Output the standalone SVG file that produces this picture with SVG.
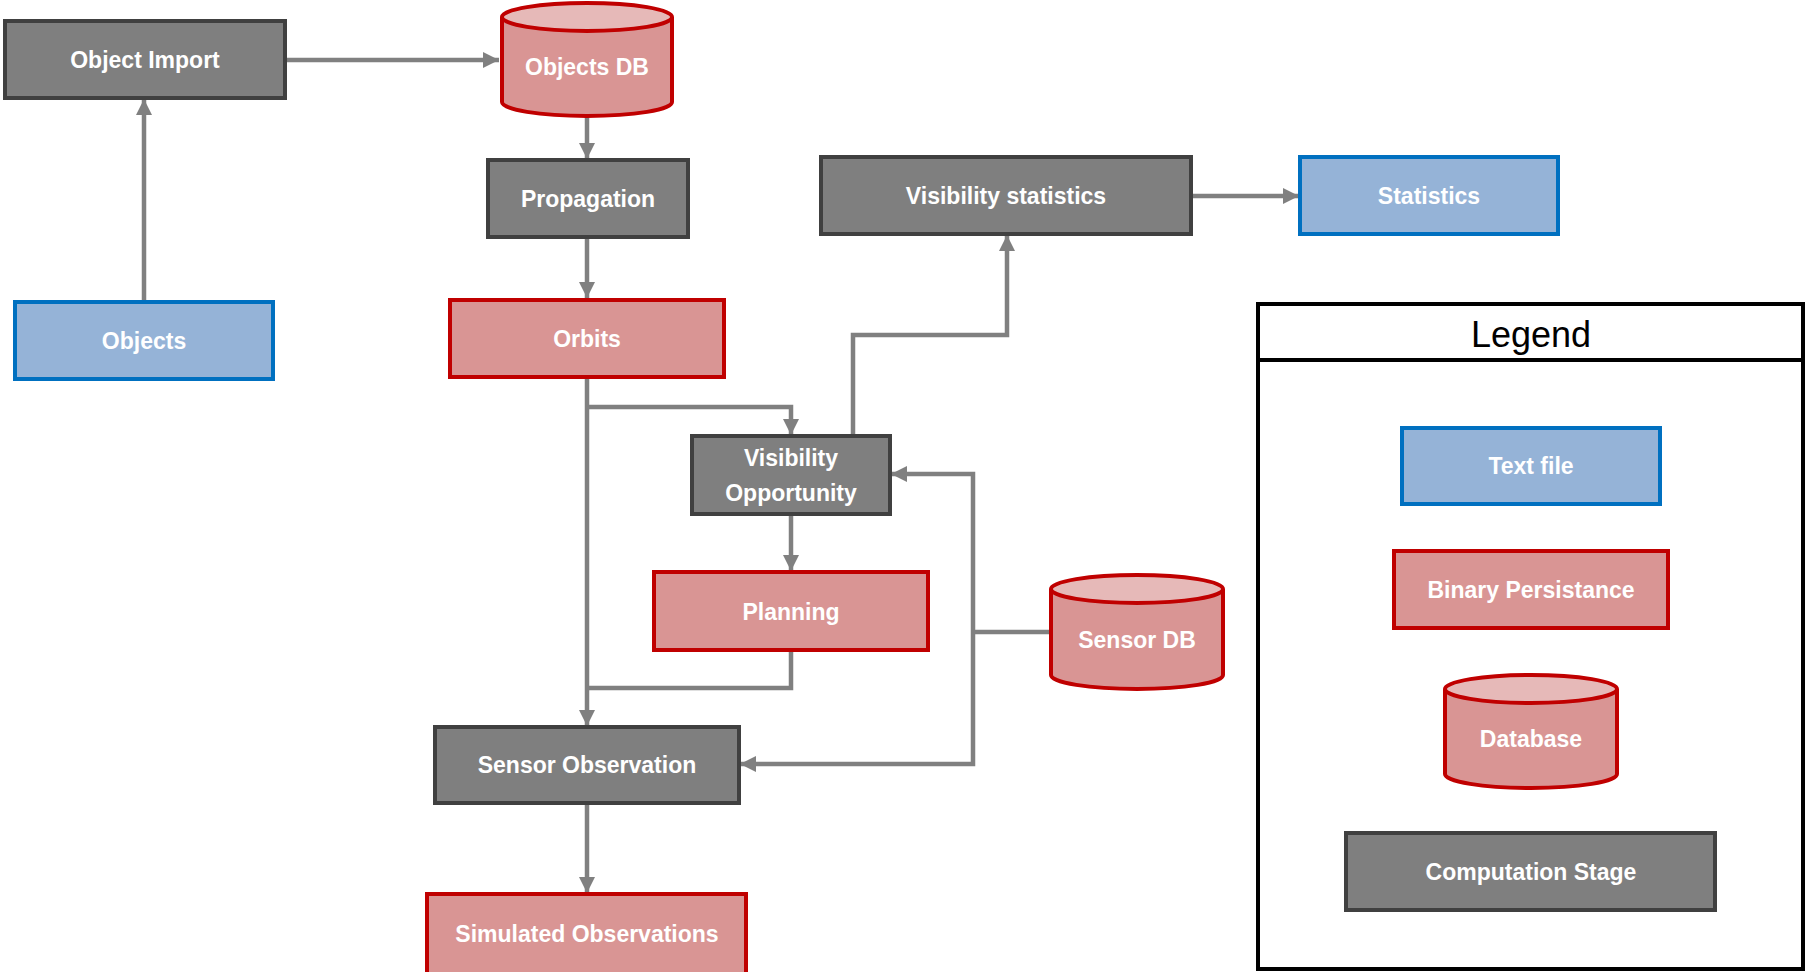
<svg xmlns="http://www.w3.org/2000/svg" width="1806" height="972" viewBox="0 0 1806 972">
<defs>
<style>
.gray{fill:#7f7f7f;stroke:#404040;stroke-width:4}
.red{fill:#d99594;stroke:#c00000;stroke-width:4}
.blue{fill:#95b3d7;stroke:#0070c0;stroke-width:4}
.cyltop{fill:#e6b9b8;stroke:#c00000;stroke-width:4}
.lbl{font-family:"Liberation Sans",Arial,sans-serif;font-weight:bold;font-size:23px;fill:#ffffff;text-anchor:middle}
.conn{fill:none;stroke:#808080;stroke-width:4.5}
</style>
<marker id="arr" markerUnits="userSpaceOnUse" markerWidth="17" markerHeight="16" refX="16" refY="8" orient="auto">
<path d="M0,0 L16,8 L0,16 z" fill="#808080"/>
</marker>
</defs>
<rect width="1806" height="972" fill="#ffffff"/>
<g id="connectors">
<path class="conn" d="M285,60 H499" marker-end="url(#arr)"/>
<path class="conn" d="M144,302 V99" marker-end="url(#arr)"/>
<path class="conn" d="M587,117 V159" marker-end="url(#arr)"/>
<path class="conn" d="M587,237 V298" marker-end="url(#arr)"/>
<path class="conn" d="M587,377 V726" marker-end="url(#arr)"/>
<path class="conn" d="M587,407 H791 V435" marker-end="url(#arr)"/>
<path class="conn" d="M853,436 V335 H1007 V235" marker-end="url(#arr)"/>
<path class="conn" d="M1191,196 H1299" marker-end="url(#arr)"/>
<path class="conn" d="M791,514 V571" marker-end="url(#arr)"/>
<path class="conn" d="M791,650 V688 H587"/>
<path class="conn" d="M1050,632 H973"/>
<path class="conn" d="M973,632 V474 H891" marker-end="url(#arr)"/>
<path class="conn" d="M973,632 V764 H740" marker-end="url(#arr)"/>
<path class="conn" d="M587,803 V893" marker-end="url(#arr)"/>
</g>
<g id="object-import">
<rect class="gray" x="5" y="21" width="280" height="77"/>
<text class="lbl" x="145" y="68">Object Import</text>
</g>
<g id="objects-db">
<path class="red" d="M502,17 V102 A85,14 0 0 0 672,102 V17"/>
<ellipse class="cyltop" cx="587" cy="17" rx="85" ry="14"/>
<text class="lbl" x="587" y="75">Objects DB</text>
</g>
<g id="objects">
<rect class="blue" x="15" y="302" width="258" height="77"/>
<text class="lbl" x="144" y="349">Objects</text>
</g>
<g id="propagation">
<rect class="gray" x="488" y="160" width="200" height="77"/>
<text class="lbl" x="588" y="207">Propagation</text>
</g>
<g id="orbits">
<rect class="red" x="450" y="300" width="274" height="77"/>
<text class="lbl" x="587" y="347">Orbits</text>
</g>
<g id="visibility-statistics">
<rect class="gray" x="821" y="157" width="370" height="77"/>
<text class="lbl" x="1006" y="204">Visibility  statistics</text>
</g>
<g id="statistics">
<rect class="blue" x="1300" y="157" width="258" height="77"/>
<text class="lbl" x="1429" y="204">Statistics</text>
</g>
<g id="visibility-opportunity">
<rect class="gray" x="692" y="436" width="198" height="78"/>
<text class="lbl" x="791" y="466">Visibility</text>
<text class="lbl" x="791" y="501">Opportunity</text>
</g>
<g id="planning">
<rect class="red" x="654" y="572" width="274" height="78"/>
<text class="lbl" x="791" y="620">Planning</text>
</g>
<g id="sensor-db">
<path class="red" d="M1051,589 V675 A86,14 0 0 0 1223,675 V589"/>
<ellipse class="cyltop" cx="1137" cy="589" rx="86" ry="14"/>
<text class="lbl" x="1137" y="648">Sensor DB</text>
</g>
<g id="sensor-observation">
<rect class="gray" x="435" y="727" width="304" height="76"/>
<text class="lbl" x="587" y="773">Sensor Observation</text>
</g>
<g id="simulated-observations">
<rect class="red" x="427" y="894" width="319" height="80"/>
<text class="lbl" x="587" y="942">Simulated Observations</text>
</g>
<g id="legend">
<rect x="1258" y="304" width="545" height="665" fill="#ffffff" stroke="#000000" stroke-width="4"/>
<line x1="1258" y1="360" x2="1803" y2="360" stroke="#000000" stroke-width="4"/>
<text x="1531" y="347" font-family="Liberation Sans,Arial,sans-serif" font-size="36" fill="#000000" text-anchor="middle">Legend</text>
<g id="legend-text-file">
<rect class="blue" x="1402" y="428" width="258" height="76"/>
<text class="lbl" x="1531" y="474">Text file</text>
</g>
<g id="legend-binary">
<rect class="red" x="1394" y="551" width="274" height="77"/>
<text class="lbl" x="1531" y="598">Binary Persistance</text>
</g>
<g id="legend-database">
<path class="red" d="M1445,689 V774 A86,14 0 0 0 1617,774 V689"/>
<ellipse class="cyltop" cx="1531" cy="689" rx="86" ry="14"/>
<text class="lbl" x="1531" y="747">Database</text>
</g>
<g id="legend-computation">
<rect class="gray" x="1346" y="833" width="369" height="77"/>
<text class="lbl" x="1531" y="880">Computation Stage</text>
</g>
</g>
</svg>
